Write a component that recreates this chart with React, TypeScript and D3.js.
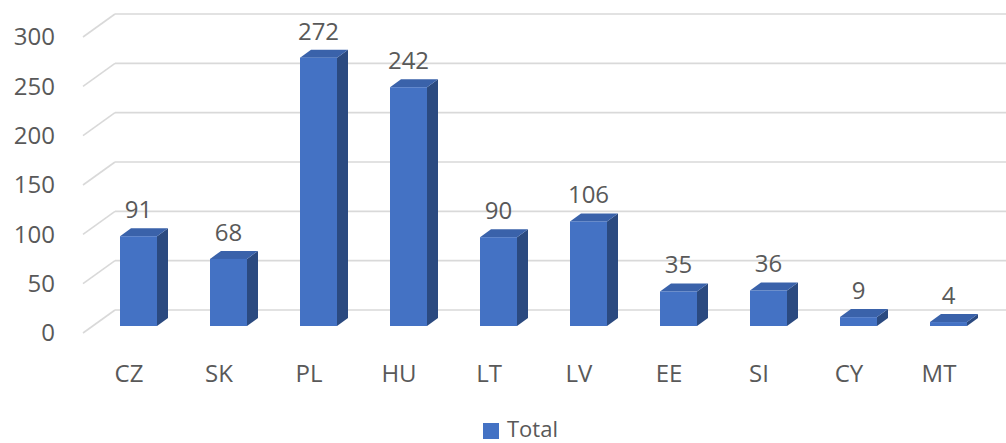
import React from 'react';
import { scaleLinear, scaleBand, range } from 'd3';

const categories = ['CZ', 'SK', 'PL', 'HU', 'LT', 'LV', 'EE', 'SI', 'CY', 'MT'];
const totals = [91, 68, 272, 242, 90, 106, 35, 36, 9, 4];
const yTicks = [0, 50, 100, 150, 200, 250, 300];
const seriesName = 'Total';

const W = 1006;
const H = 443;
const font = '"Open Sans", "Liberation Sans", sans-serif';
const textColor = '#595959';

export default function App() {
  // back wall of the plot (gridlines) and the plane where the bar fronts stand
  const yBack = scaleLinear().domain([0, 300]).range([310, 14]);
  const yFront = scaleLinear().domain([0, 300]).range([326, 30]);
  const x = scaleBand().domain(categories).range([93.5, 993.5]).padding(0);

  const barW = 37;
  const dx = 11;
  const dy = -8;
  const wallX0 = 83;
  const wallX1 = 115;
  const wallDrop = 23;

  return (
    <svg
      width={W}
      height={H}
      style={{ position: 'absolute', left: 0, top: 0, background: '#fff' }}
      fontFamily={font}
    >
      <g className="grid">
        {yTicks.map((t) => {
          const yb = yBack(t);
          return (
            <g key={t}>
              <line x1={wallX0} y1={yb + wallDrop} x2={wallX1} y2={yb} stroke="#d9d9d9" strokeWidth={1.6} />
              <line x1={wallX1} y1={yb} x2={W} y2={yb} stroke="#d9d9d9" strokeWidth={1.6} />
              <text
                x={55}
                y={yb + wallDrop + 2}
                textAnchor="end"
                dominantBaseline="middle"
                fontSize={24}
                fill={textColor}
              >
                {t}
              </text>
            </g>
          );
        })}
      </g>

      <g className="bars">
        {range(categories.length).map((i) => {
          const c = categories[i];
          const v = totals[i];
          const cx = x(c)! + x.bandwidth() / 2;
          const x0 = cx - barW / 2;
          const x1 = cx + barW / 2;
          const yb = yFront(0);
          const yt = yFront(v);
          const top = `${x0},${yt} ${x1},${yt} ${x1 + dx},${yt + dy} ${x0 + dx},${yt + dy}`;
          const side = `${x1},${yt} ${x1 + dx},${yt + dy} ${x1 + dx},${yb + dy} ${x1},${yb}`;
          return (
            <g key={c}>
              <polygon points={side} fill="#2b4a80" />
              <polygon points={top} fill="#3a62aa" />
              <rect x={x0} y={yt} width={barW} height={yb - yt} fill="#4472c4" />
              <text x={cx} y={yt - 18} textAnchor="middle" fontSize={24} fill={textColor}>
                {v}
              </text>
            </g>
          );
        })}
      </g>

      <g className="x-labels">
        {categories.map((c) => (
          <text
            key={c}
            x={x(c)! + x.bandwidth() / 2 - 9.5}
            y={382}
            textAnchor="middle"
            fontSize={24}
            fill={textColor}
          >
            {c}
          </text>
        ))}
      </g>

      <g className="legend">
        <rect x={483} y={423} width={16} height={16} fill="#4472c4" />
        <text x={507} y={437} fontSize={22} fill={textColor}>
          {seriesName}
        </text>
      </g>
    </svg>
  );
}
